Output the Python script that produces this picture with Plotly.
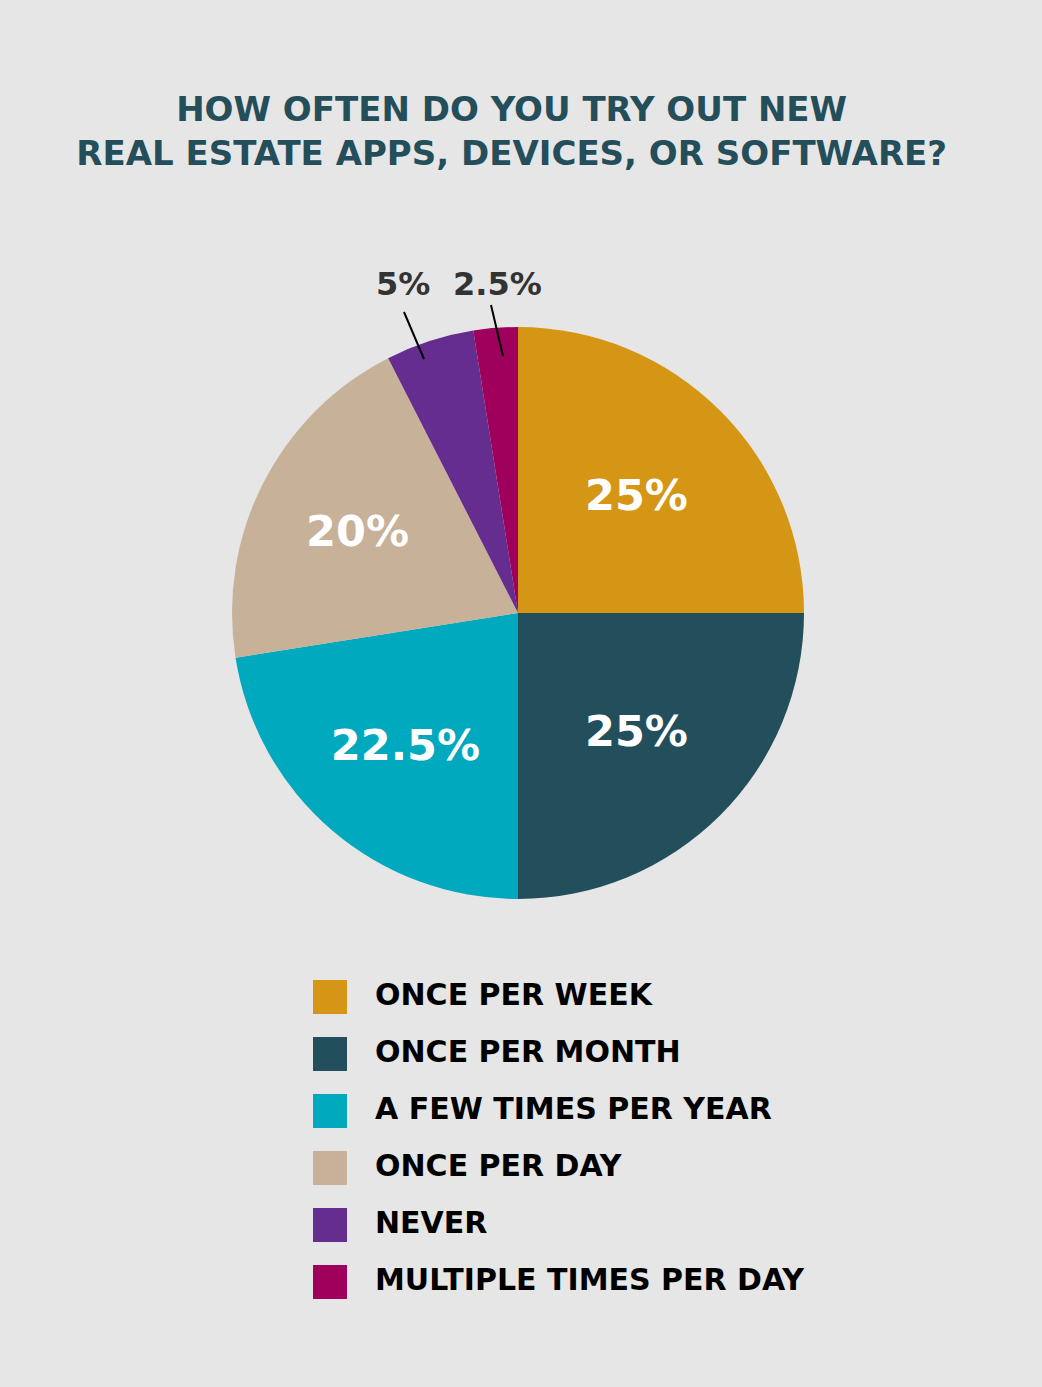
import plotly.graph_objects as go

# data
categories = ["ONCE PER WEEK", "ONCE PER MONTH", "A FEW TIMES PER YEAR",
              "ONCE PER DAY", "NEVER", "MULTIPLE TIMES PER DAY"]
shares = [25, 25, 22.5, 20, 5, 2.5]
colors = ["#D49614", "#234E5B", "#00A9BE", "#C7B199", "#652D8F", "#9E005C"]
inside = [True, True, True, True, False, False]

W, H = 1042, 1387
BG = "#E6E6E6"
FONT = "DejaVu Sans"

# pie geometry in pixels
CX, CY, R = 518, 613, 286

# where the outside labels sit: text centre, leader line top, leader line bottom (px)
callouts = {
    "NEVER": ((403, 284), (404, 312), (424, 359)),
    "MULTIPLE TIMES PER DAY": ((497, 284), (491, 305), (503, 356)),
}

fig = go.Figure()

fig.add_trace(go.Pie(
    values=shares,
    labels=categories,
    marker=dict(colors=colors, line=dict(width=0)),
    sort=False,
    direction="clockwise",
    rotation=0,
    texttemplate="%{value}%",
    textposition=["inside" if f else "none" for f in inside],
    insidetextorientation="horizontal",
    insidetextfont=dict(family=FONT, size=43, color="white", weight="bold"),
    showlegend=False,
    hoverinfo="label+percent",
    domain=dict(x=[(CX - R) / W, (CX + R) / W],
                y=[1 - (CY + R) / H, 1 - (CY - R) / H]),
))

# outside labels with leader lines for the small slices
for cat, v, f in zip(categories, shares, inside):
    if f:
        continue
    (tx, ty), (x1, y1), (x0, y0) = callouts[cat]
    fig.add_shape(type="line", xref="paper", yref="paper",
                  x0=x0 / W, y0=1 - y0 / H, x1=x1 / W, y1=1 - y1 / H,
                  line=dict(color="black", width=2))
    fig.add_annotation(text=f"{v:g}%", xref="paper", yref="paper",
                       x=tx / W, y=1 - ty / H,
                       xanchor="center", yanchor="middle", showarrow=False,
                       font=dict(family=FONT, size=32, color="#333333", weight="bold"))

# legend drawn as its own little scatter
idx = list(range(len(categories)))
fig.add_trace(go.Scatter(
    x=[330] * len(categories), y=idx, mode="markers",
    marker=dict(symbol="square", size=34, color=colors, line=dict(width=0)),
    showlegend=False, hoverinfo="skip", xaxis="x", yaxis="y",
))
fig.add_trace(go.Scatter(
    x=[375] * len(categories), y=idx, mode="text", text=categories,
    textposition="middle right",
    textfont=dict(family=FONT, size=30, color="black", weight="bold"),
    showlegend=False, hoverinfo="skip", xaxis="x", yaxis="y",
))

fig.update_layout(
    width=W, height=H,
    paper_bgcolor=BG, plot_bgcolor=BG,
    margin=dict(l=0, r=0, t=0, b=0),
    title=dict(
        text="HOW OFTEN DO YOU TRY OUT NEW<br>REAL ESTATE APPS, DEVICES, OR SOFTWARE?",
        x=0.491, xanchor="center", y=1 - 121 / H, yanchor="top",
        font=dict(family=FONT, size=34, color="#234E5A", weight="bold"),
    ),
    xaxis=dict(domain=[0, 1], range=[0, W], visible=False, fixedrange=True),
    yaxis=dict(domain=[1 - 1310.5 / H, 1 - 968.5 / H], range=[5.5, -0.5],
               visible=False, fixedrange=True),
)

fig.write_html("out.html", config={"displayModeBar": False},
               post_script="document.body.style.margin='0px';")
